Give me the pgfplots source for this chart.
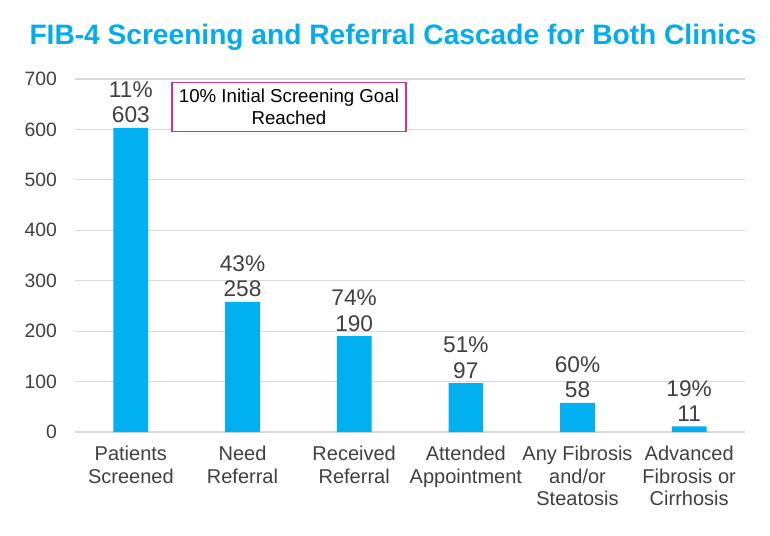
\documentclass[border=0pt]{standalone}
\usepackage{pgfplots}
\pgfplotsset{compat=1.18}
\usepackage{pgfplotstable}
\usepackage{fontspec}
\setmainfont{Liberation Sans}
\definecolor{barblue}{RGB}{0,176,240}
\definecolor{titleblue}{RGB}{0,174,239}
\definecolor{txtgray}{RGB}{64,64,64}
\definecolor{gridgray}{RGB}{217,217,217}
\definecolor{boxpink}{RGB}{204,51,153}

\pgfplotstableread{
x y pct
0 603 11
1 258 43
2 190 74
3 97 51
4 58 60
5 11 19
}\cascade

\begin{document}
\begin{tikzpicture}
\useasboundingbox (-56.25pt,-77.25pt) rectangle (521.25pt,324pt);
\begin{axis}[
    at={(0,0)}, anchor=south west,
    scale only axis,
    width=502.5pt, height=264.75pt,
    xmin=-0.5, xmax=5.5, ymin=0, ymax=700,
    ytick={0,100,...,700},
    xtick=data,
    xticklabels={{Patients\\Screened},{Need\\Referral},{Received\\Referral},{Attended\\Appointment},{Any Fibrosis\\and/or\\Steatosis},{Advanced\\Fibrosis or\\Cirrhosis}},
    xticklabel style={align=center, font=\fontsize{15}{17}\selectfont, text=txtgray, yshift=-7pt},
    yticklabel style={font=\fontsize{14.5}{17}\selectfont, text=txtgray, xshift=-10pt},
    /pgf/number format/assume math mode=true,
    axis line style={draw=none},
    major tick length=0pt,
    ymajorgrids, grid style={gridgray, line width=0.8pt},
    ybar, bar width=26pt,
    point meta=explicit symbolic,
    visualization depends on={y \as \yval},
    nodes near coords={\pgfplotspointmeta\%\\\pgfmathprintnumber[fixed,precision=0]{\yval}},
    nodes near coords style={align=center, font=\fontsize{17}{19}\selectfont, text=txtgray},
    clip=false,
]
\addplot[fill=barblue, draw=none] table[x=x, y=y, meta=pct] {\cascade};
\node[draw=boxpink, line width=0.9pt, fill=white, minimum width=175.5pt, minimum height=36.75pt,
      align=center, font=\fontsize{14}{16}\selectfont, text=black]
      at (axis cs:1.416,645) {10\% Initial Screening Goal\\Reached};
\end{axis}
\node[font=\fontsize{21.1}{25}\selectfont\bfseries, text=titleblue] at (238.5pt,296pt)
  {FIB-4 Screening and Referral Cascade for Both Clinics};
\end{tikzpicture}
\end{document}
